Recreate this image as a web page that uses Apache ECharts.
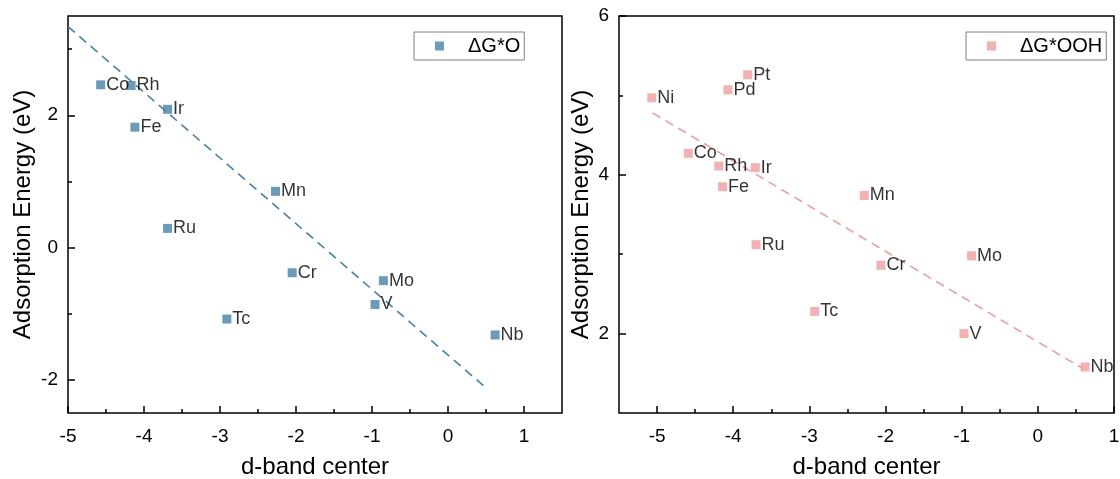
<!DOCTYPE html>
<html>
<head>
<meta charset="utf-8">
<title>Adsorption energy vs d-band center</title>
<script src="https://cdn.jsdelivr.net/npm/echarts@6/dist/echarts.min.js"></script>
<style>
  html, body { margin: 0; padding: 0; background: #fff; }
  #chart { width: 1120px; height: 479px; }
</style>
</head>
<body>
<div id="chart"></div>
<script>
// ΔG*O adsorption energies (eV) against d-band center
const elementsO = ['Co', 'Rh', 'Ir', 'Fe', 'Mn', 'Ru', 'Cr', 'Mo', 'V', 'Tc', 'Nb'];
const dbandO = [-4.57, -4.17, -3.69, -4.12, -2.27, -3.69, -2.05, -0.85, -0.96, -2.91, 0.62];
const energyO = [2.46, 2.45, 2.09, 1.82, 0.85, 0.29, -0.38, -0.50, -0.86, -1.08, -1.32];
const fitOX = [-5.0, 0.52];
const fitOY = [3.34, -2.14];

// ΔG*OOH adsorption energies (eV) against d-band center
const elementsOOH = ['Ni', 'Pt', 'Pd', 'Co', 'Rh', 'Ir', 'Fe', 'Mn', 'Ru', 'Mo', 'Cr', 'Tc', 'V', 'Nb'];
const dbandOOH = [-5.07, -3.81, -4.07, -4.59, -4.19, -3.71, -4.14, -2.28, -3.70, -0.87, -2.06, -2.93, -0.97, 0.62];
const energyOOH = [4.97, 5.26, 5.07, 4.27, 4.11, 4.09, 3.85, 3.74, 3.12, 2.98, 2.86, 2.28, 2.00, 1.58];
const fitOOHX = [-5.06, 0.59];
const fitOOHY = [4.78, 1.56];

// tick values
const xMajorL = [-5, -4, -3, -2, -1, 0, 1];
const xMinorL = [-4.5, -3.5, -2.5, -1.5, -0.5, 0.5];
const yMajorL = [-2, 0, 2];
const yMinorL = [-1, 1, 3];
const xMajorR = [-5, -4, -3, -2, -1, 0, 1];
const xMinorR = [-4.5, -3.5, -2.5, -1.5, -0.5, 0.5];
const yMajorR = [2, 4, 6];
const yMinorR = [3, 5];

const FONT = "'Liberation Sans', Arial, sans-serif";
const BLUE = '#4682aa';
const PINK = '#f39c9f';

function pairs(xs, ys) { return xs.map((x, i) => [x, ys[i]]); }

function axisMajor(grid, min, max, ticks, name, nameGap, labelMargin) {
  return {
    type: 'value', gridIndex: grid, min: min, max: max,
    axisLine: { show: false, onZero: false },
    splitLine: { show: false },
    axisTick: { show: true, inside: true, length: 7, customValues: ticks,
                lineStyle: { color: '#000', width: 1.5 } },
    axisLabel: { customValues: ticks, margin: labelMargin, fontSize: 19,
                 color: '#000', fontFamily: FONT },
    name: name, nameLocation: 'middle', nameGap: nameGap,
    nameTextStyle: { fontSize: 24, color: '#000', fontFamily: FONT }
  };
}
function axisMinor(grid, min, max, ticks) {
  return {
    type: 'value', gridIndex: grid, min: min, max: max,
    axisLine: { show: false, onZero: false },
    splitLine: { show: false },
    axisTick: { show: true, inside: true, length: 4, customValues: ticks,
                lineStyle: { color: '#000', width: 1.5 } },
    axisLabel: { show: false }
  };
}

const xAxes = [
  Object.assign(axisMajor(0, -5, 1.5, xMajorL, 'd-band center', 42, 14), { position: 'bottom' }),
  Object.assign(axisMinor(0, -5, 1.5, xMinorL), { position: 'bottom' }),
  Object.assign(axisMajor(1, -5.5, 1, xMajorR, 'd-band center', 42, 14), { position: 'bottom' }),
  Object.assign(axisMinor(1, -5.5, 1, xMinorR), { position: 'bottom' })
];
const yAxes = [
  Object.assign(axisMajor(0, -2.5, 3.5, yMajorL, 'Adsorption Energy (eV)', 33, 10), { position: 'left' }),
  Object.assign(axisMinor(0, -2.5, 3.5, yMinorL), { position: 'left' }),
  Object.assign(axisMajor(1, 1, 6, yMajorR, 'Adsorption Energy (eV)', 26, 10), { position: 'left' }),
  Object.assign(axisMinor(1, 1, 6, yMinorR), { position: 'left' })
];

function pointSeries(name, xi, yi, color, xs, ys, labels) {
  return {
    name: name, type: 'scatter', xAxisIndex: xi, yAxisIndex: yi,
    symbol: 'rect', symbolSize: 9,
    itemStyle: { color: color },
    data: xs.map((x, i) => ({ value: [x, ys[i]], name: labels[i] })),
    label: { show: true, position: 'right', distance: 1, formatter: '{b}',
             fontSize: 18, color: '#000', fontFamily: FONT },
    z: 3
  };
}
function fitSeries(name, xi, yi, color, xs, ys) {
  return {
    name: name, type: 'line', xAxisIndex: xi, yAxisIndex: yi,
    data: pairs(xs, ys), symbol: 'none', silent: true,
    lineStyle: { color: color, width: 1.6, type: [9, 6] },
    z: 2
  };
}

function legendBox(left, name) {
  return {
    left: left, top: 32, orient: 'vertical', selectedMode: false,
    data: [name],
    itemWidth: 9, itemHeight: 9,
    padding: [3, 4, 3, 21],
    borderColor: '#808080', borderWidth: 1, borderRadius: 0,
    backgroundColor: '#fff',
    textStyle: { fontSize: 20, lineHeight: 22, color: '#000', fontFamily: FONT,
                 padding: [0, 0, 0, 19] }
  };
}

const chart = echarts.init(document.getElementById('chart'), null, { renderer: 'canvas' });
chart.setOption({
  animation: false,
  backgroundColor: '#fff',
  textStyle: { fontFamily: FONT },
  grid: [
    { left: 68, top: 16, width: 494, height: 397, show: true,
      outerBoundsMode: 'none', containLabel: false,
      borderColor: '#000', borderWidth: 1.5, backgroundColor: 'transparent' },
    { left: 619, top: 16, width: 495, height: 397, show: true,
      outerBoundsMode: 'none', containLabel: false,
      borderColor: '#000', borderWidth: 1.5, backgroundColor: 'transparent' }
  ],
  legend: [legendBox(414, 'ΔG*O'), legendBox(966, 'ΔG*OOH')],
  xAxis: xAxes,
  yAxis: yAxes,
  series: [
    fitSeries('fit O', 0, 0, BLUE, fitOX, fitOY),
    pointSeries('ΔG*O', 0, 0, BLUE, dbandO, energyO, elementsO),
    fitSeries('fit OOH', 2, 2, PINK, fitOOHX, fitOOHY),
    pointSeries('ΔG*OOH', 2, 2, PINK, dbandOOH, energyOOH, elementsOOH)
  ]
});
</script>
</body>
</html>
